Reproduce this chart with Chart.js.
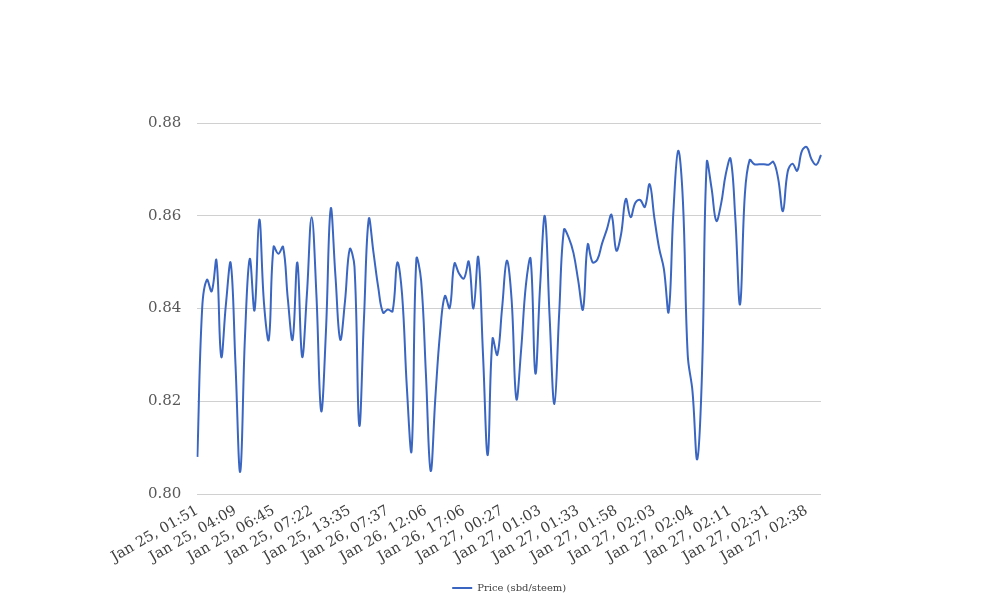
<!DOCTYPE html>
<html>
<head>
<meta charset="utf-8">
<script src="https://cdn.jsdelivr.net/npm/chart.js@4/dist/chart.umd.min.js"></script>
<style>
  html, body { margin: 0; padding: 0; background: #ffffff; }
  #wrap { width: 1008px; height: 616px; }
</style>
</head>
<body>
<div id="wrap"><canvas id="chartPrice"></canvas></div>
<script>
// tick labels shown under the x axis (every 8th sample)
let tickLabels = [
  'Jan 25, 01:51', 'Jan 25, 04:09', 'Jan 25, 06:45', 'Jan 25, 07:22', 'Jan 25, 13:35',
  'Jan 26, 07:37', 'Jan 26, 12:06', 'Jan 26, 17:06', 'Jan 27, 00:27', 'Jan 27, 01:03',
  'Jan 27, 01:33', 'Jan 27, 01:58', 'Jan 27, 02:03', 'Jan 27, 02:04', 'Jan 27, 02:11',
  'Jan 27, 02:31', 'Jan 27, 02:38'
];
let labelStep = 8;

// price (sbd/steem)
let prices = [
  0.808, 0.840, 0.8462, 0.8437, 0.8504, 0.8296, 0.841, 0.8498, 0.828, 0.8048,
  0.834, 0.8507, 0.8396, 0.8592, 0.841, 0.8333, 0.8533, 0.8518, 0.8533, 0.842,
  0.8333, 0.8499, 0.8296, 0.843, 0.8597, 0.843, 0.8179, 0.835, 0.8615, 0.847,
  0.8333, 0.8415, 0.8528, 0.849, 0.8148, 0.838, 0.8593, 0.852, 0.8445, 0.8391,
  0.8398, 0.8394, 0.8499, 0.843, 0.823, 0.8094, 0.8507, 0.846, 0.826, 0.8050,
  0.821, 0.835, 0.8427, 0.8401, 0.8497, 0.8475, 0.8465, 0.8501, 0.8400, 0.8511,
  0.830, 0.8084, 0.8335, 0.8300, 0.840, 0.8503, 0.842, 0.8205, 0.831, 0.845,
  0.8507, 0.8260, 0.845, 0.8599, 0.838, 0.8194, 0.839, 0.8570, 0.8553, 0.852,
  0.846, 0.8398, 0.8538, 0.8500, 0.8505, 0.8540, 0.857, 0.8602, 0.8525, 0.856,
  0.8636, 0.8597, 0.8628, 0.8634, 0.8619, 0.8668, 0.8595, 0.853, 0.8485, 0.8393,
  0.861, 0.8740, 0.863, 0.830, 0.8222, 0.8075, 0.826, 0.8715, 0.866, 0.8589,
  0.8625, 0.869, 0.8723, 0.8595, 0.8409, 0.8645, 0.8720, 0.8711, 0.8711, 0.8711,
  0.8710, 0.8716, 0.868, 0.8610, 0.8695, 0.8712, 0.8697, 0.8740, 0.8748, 0.8722,
  0.8710, 0.8731
];

let yMin = 0.80;
let yMax = 0.88;
let yStep = 0.02;

let axisColor = '#595959';
let labelColor = '#404040';
let lineColor = '#3a66c2';

let ctx = document.getElementById('chartPrice').getContext('2d');

new Chart(ctx, {
  type: 'line',
  data: {
    labels: prices.map((p, i) => i),
    datasets: [
      {
        label: 'Price (sbd/steem)',
        data: prices,
        borderColor: lineColor,
        backgroundColor: lineColor,
        borderWidth: 2,
        pointRadius: 0,
        tension: 0.4,
        fill: false
      }
    ]
  },
  options: {
    responsive: true,
    maintainAspectRatio: false,
    animation: false,
    layout: {
      padding: { top: 123, right: 187, left: 132, bottom: 13 }
    },
    plugins: {
      legend: {
        position: 'bottom',
        fullSize: false,
        labels: {
          usePointStyle: true,
          pointStyle: 'line',
          pointStyleWidth: 20,
          padding: 17,
          color: labelColor,
          font: { family: 'DejaVu Serif', size: 10 }
        }
      },
      tooltip: { enabled: false }
    },
    scales: {
      x: {
        grid: { display: false },
        border: { display: false },
        ticks: {
          autoSkip: false,
          minRotation: 30,
          maxRotation: 30,
          padding: 0,
          color: labelColor,
          font: { family: 'DejaVu Serif', size: 14.5 },
          callback: (value, index) => index % labelStep === 0 ? tickLabels[index / labelStep] : null
        }
      },
      y: {
        min: yMin,
        max: yMax,
        border: { display: false },
        grid: { color: '#d0d0d0', drawTicks: false },
        ticks: {
          stepSize: yStep,
          padding: 16,
          color: axisColor,
          font: { family: 'DejaVu Serif', size: 15 },
          callback: v => v.toFixed(2)
        }
      }
    }
  }
});
</script>
</body>
</html>
